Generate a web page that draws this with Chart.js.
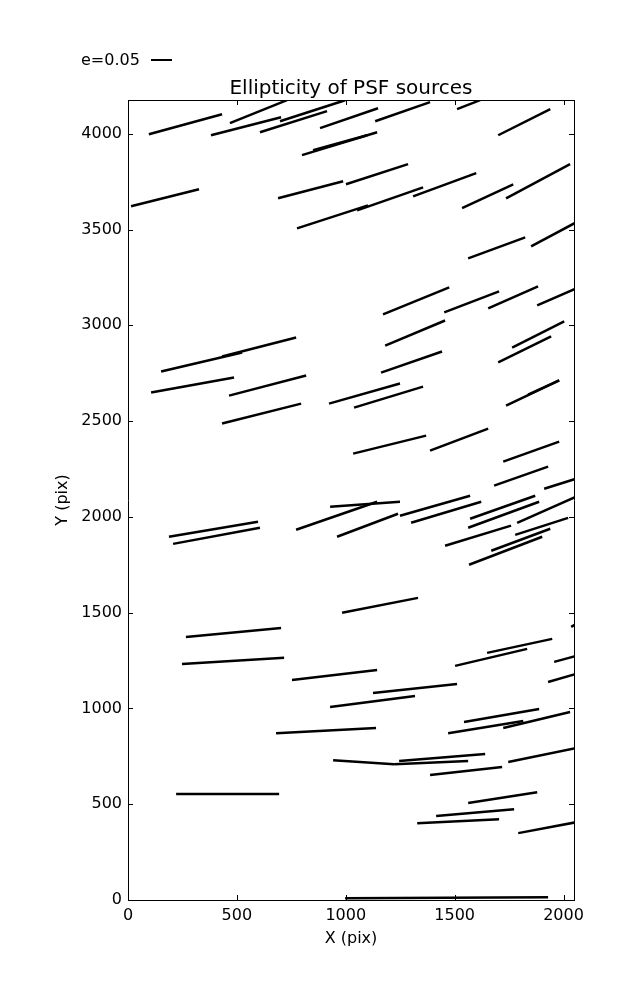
<!DOCTYPE html>
<html>
<head>
<meta charset="utf-8">
<title>Ellipticity of PSF sources</title>
<script src="https://cdn.jsdelivr.net/npm/chart.js@4"></script>
<style>
  body { margin: 0; background: #fff; }
  #wrap { position: relative; width: 637px; height: 1000px; }
</style>
</head>
<body>
<div id="wrap"><canvas id="psfChart"></canvas></div>
<script>
// Whisker ends (pixel units of the detector)
const startX = [96, 468, 381, 606, 698, 882, 1135, 1511, 1700, 799, 850, 14, 689, 1001, 776, 1052, 1309, 1534, 1736, 1562, 1851,
  1171, 1452, 1654, 1879, 1181, 1162, 923, 1038, 1034, 1387, 1764, 1700, 1736, 1837, 1723, 1681, 1911,
  152, 432, 106, 464, 432, 188, 207, 772, 928, 960, 1249, 1300, 1571, 1562, 1787, 1456, 1778, 1668, 1566,
  2035, 1649, 1502, 1957, 1929, 1125, 983, 266, 248, 753, 928, 680, 942, 221, 997,
  1543, 1470, 1723, 1245, 1222, 1387, 1746, 1562, 1415, 1328, 1792];
const startY = [3997, 4055, 3992, 4008, 4065, 4029, 4065, 4128, 3992, 3888, 3914, 3621, 3663, 3736, 3506, 3600, 3673, 3611, 3663, 3349, 3412,
  3057, 3067, 3088, 3104, 2894, 2753, 2591, 2570, 2330, 2346, 2884, 2806, 2581, 2638, 2288, 2163, 2147,
  2759, 2837, 2649, 2633, 2487, 1896, 1859, 1933, 2053, 1896, 2006, 1969, 1990, 1943, 1969, 1849, 1906, 1823, 1750,
  1426, 1290, 1222, 1243, 1138, 1081, 1499, 1373, 1232, 1149, 1007, 871, 730, 553, 9,
  929, 871, 898, 725, 709, 652, 720, 506, 438, 401, 349];
const endX = [432, 730, 703, 914, 997, 1148, 1387, 1617, 1939, 1144, 1098, 326, 988, 1286, 1102, 1355, 1599, 1769, 2030, 1824, 2067,
  1475, 1704, 1883, 2058, 1456, 1442, 1249, 1355, 1369, 1654, 2003, 1943, 1980, 1980, 1980, 1929, 2058,
  524, 772, 487, 818, 795, 597, 606, 1144, 1249, 1240, 1571, 1622, 1870, 1888, 2058, 1759, 2021, 1939, 1902,
  2076, 1948, 1833, 2058, 2058, 1511, 1332, 703, 717, 1144, 1318, 1139, 1222, 694, 1929,
  1888, 1815, 2030, 1640, 1562, 1718, 2058, 1879, 1773, 1704, 2058];
const endY = [4102, 4175, 4086, 4118, 4175, 4133, 4165, 4175, 4128, 4008, 3992, 3710, 3752, 3841, 3626, 3720, 3794, 3736, 3841, 3459, 3543,
  3198, 3177, 3203, 3192, 3025, 2863, 2696, 2680, 2424, 2461, 3020, 2942, 2712, 2712, 2393, 2262, 2199,
  2858, 2936, 2727, 2738, 2591, 1974, 1943, 2079, 2079, 2016, 2110, 2079, 2110, 2079, 2105, 1954, 1995, 1938, 1896,
  1452, 1363, 1311, 1274, 1180, 1128, 1577, 1420, 1264, 1201, 1065, 898, 709, 553, 14,
  997, 934, 981, 762, 725, 694, 793, 563, 474, 422, 406];

// Axis ranges and tick values
const xMax = 2048;
const yMax = 4176;
const xTickValues = [0, 500, 1000, 1500, 2000];
const yTickValues = [0, 500, 1000, 1500, 2000, 2500, 3000, 3500, 4000];

const legendText = 'e=0.05';
const fontFamily = '"DejaVu Sans", sans-serif';

// one dataset per whisker
const datasets = startX.map((x, i) => ({
  data: [{ x: x, y: startY[i] }, { x: endX[i], y: endY[i] }],
  showLine: true,
  borderColor: '#000',
  borderWidth: 2.5,
  pointRadius: 0,
  clip: 0
}));

function setTicks(values) {
  return scale => { scale.ticks = values.map(v => ({ value: v })); };
}

// inward tick marks on all four sides, plus the e=0.05 key
const frameTicks = {
  id: 'frameTicks',
  afterDraw(chart) {
    const ctx = chart.ctx;
    const area = chart.chartArea;
    const xs = chart.scales.x;
    const ys = chart.scales.y;
    const len = 5;
    ctx.save();
    ctx.strokeStyle = '#000';
    ctx.lineWidth = 1;
    ctx.beginPath();
    xs.ticks.forEach(t => {
      const px = Math.round(xs.getPixelForValue(t.value)) + 0.5;
      ctx.moveTo(px, area.bottom);
      ctx.lineTo(px, area.bottom - len);
      ctx.moveTo(px, area.top);
      ctx.lineTo(px, area.top + len);
    });
    ys.ticks.forEach(t => {
      const py = Math.round(ys.getPixelForValue(t.value)) + 0.5;
      ctx.moveTo(area.left, py);
      ctx.lineTo(area.left + len, py);
      ctx.moveTo(area.right, py);
      ctx.lineTo(area.right - len, py);
    });
    ctx.stroke();

    // key
    ctx.fillStyle = '#000';
    ctx.font = '16px ' + fontFamily;
    ctx.textBaseline = 'middle';
    ctx.textAlign = 'left';
    ctx.fillText(legendText, 81, 61);
    ctx.lineWidth = 2;
    ctx.beginPath();
    ctx.moveTo(151, 60);
    ctx.lineTo(172, 60);
    ctx.stroke();
    ctx.restore();
  }
};

const ctx = document.getElementById('psfChart').getContext('2d');
new Chart(ctx, {
  type: 'scatter',
  data: { datasets: datasets },
  options: {
    responsive: true,
    maintainAspectRatio: false,
    animation: false,
    layout: { padding: 0 },
    plugins: {
      legend: { display: false },
      tooltip: { enabled: false },
      title: { display: false }
    },
    scales: {
      x: {
        type: 'linear',
        position: 'bottom',
        min: 0,
        max: xMax,
        afterBuildTicks: setTicks(xTickValues),
        afterFit(scale) { scale.height = 100; },
        ticks: {
          autoSkip: false,
          maxRotation: 0,
          padding: 6,
          color: '#000',
          font: { family: fontFamily, size: 16 },
          callback: v => String(v)
        },
        grid: { display: false, drawTicks: false },
        border: { display: true, color: '#000', width: 1 },
        title: {
          display: true,
          text: 'X (pix)',
          color: '#000',
          font: { family: fontFamily, size: 16 },
          padding: { top: 0, bottom: 52 }
        }
      },
      x2: {
        type: 'linear',
        position: 'top',
        min: 0,
        max: xMax,
        afterFit(scale) { scale.height = 100; },
        ticks: { display: false },
        grid: { display: false, drawTicks: false },
        border: { display: true, color: '#000', width: 1 },
        title: {
          display: true,
          text: 'Ellipticity of PSF sources',
          color: '#000',
          font: { family: fontFamily, size: 20 },
          padding: { top: 77, bottom: 0 }
        }
      },
      y: {
        type: 'linear',
        position: 'left',
        min: 0,
        max: yMax,
        afterBuildTicks: setTicks(yTickValues),
        afterFit(scale) { scale.width = 128; },
        ticks: {
          autoSkip: false,
          padding: 6,
          color: '#000',
          font: { family: fontFamily, size: 16 },
          callback: v => String(v)
        },
        grid: { display: false, drawTicks: false },
        border: { display: true, color: '#000', width: 1 },
        title: {
          display: true,
          text: 'Y (pix)',
          color: '#000',
          font: { family: fontFamily, size: 16 },
          padding: { top: 53, bottom: 0 }
        }
      },
      y2: {
        type: 'linear',
        position: 'right',
        min: 0,
        max: yMax,
        afterFit(scale) { scale.width = 63; },
        ticks: { display: false },
        grid: { display: false, drawTicks: false },
        border: { display: true, color: '#000', width: 1 }
      }
    }
  },
  plugins: [frameTicks]
});
</script>
</body>
</html>
